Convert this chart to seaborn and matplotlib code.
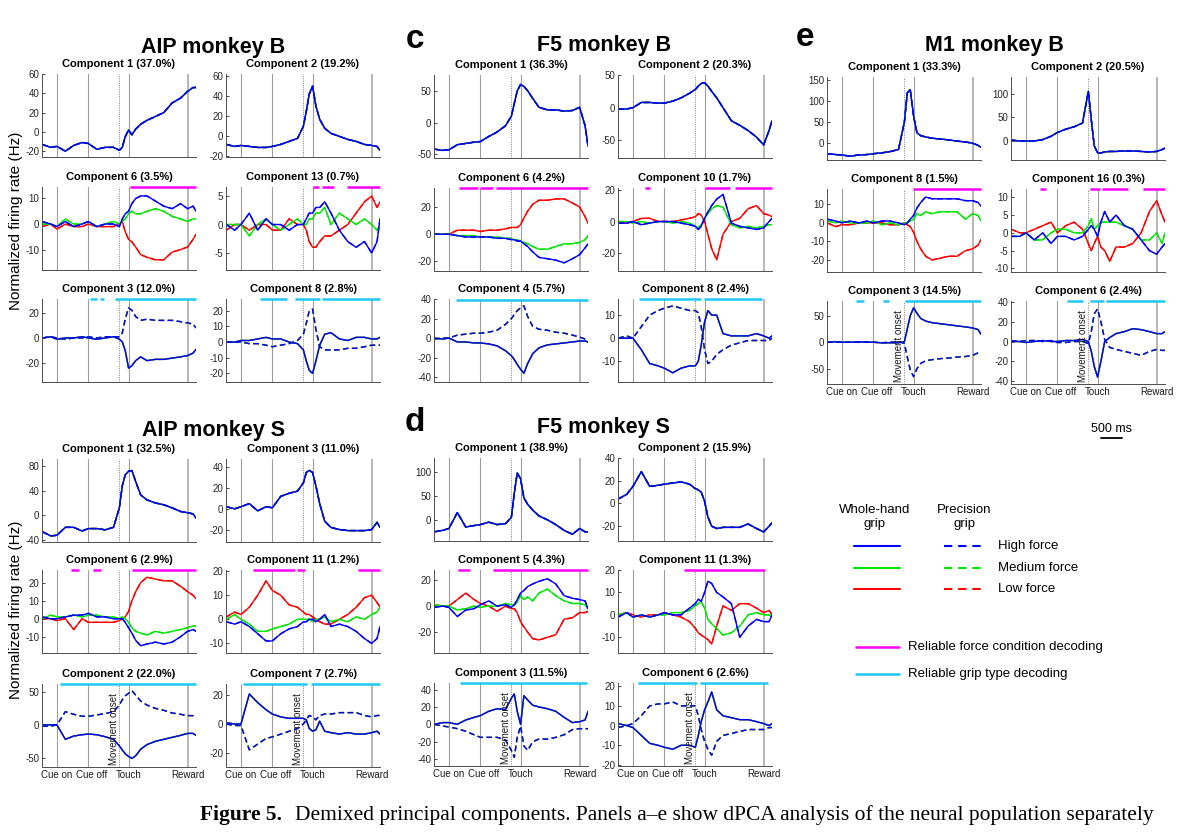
import matplotlib.pyplot as plt
import matplotlib.transforms as mtransforms
import pandas as pd
import seaborn as sns

sns.set_theme(style='white')
plt.rcParams['font.family'] = ['Liberation Sans', 'DejaVu Sans']
plt.rcParams['text.color'] = 'black'
plt.rcParams['axes.unicode_minus'] = False

W, H = 1184, 833

# time base (ms, cue onset = 0)
t_ms = [-350, -150, 0, 200, 400, 600, 750, 950, 1150, 1350, 1490, 1560, 1630,
        1710, 1790, 1880, 2000, 2150, 2350, 2550, 2750, 2950, 3120, 3250, 3320]
t_start, t_end = -357, 3320
event_names = ['Cue on', 'Cue off', 'Touch', 'Reward']
event_ms = [0, 750, 1710, 3120]
move_onset_ms = 1490

forces = ['Low', 'Medium', 'High']
grips = ['Whole-hand', 'Precision']
force_colors = {'High': '#0000ff', 'Medium': '#00e600', 'Low': '#ff0000'}
force_bar_color = '#ff00ff'
grip_bar_color = '#1ec8f5'

# ---------------- AIP monkey B ----------------
aipb_c1 = [-13, -16, -15, -20, -14, -11, -12, -18, -16, -16, -19, -16, -5, 2, -3, 3, 8, 12, 16, 20, 30, 35, 42, 46, 46]
aipb_c2 = [-8, -10, -9, -10, -11, -11, -10, -8, -5, -2, 10, 25, 42, 50, 30, 17, 8, 3, 0, -3, -5, -8, -9, -10, -14]
aipb_c6_high = [1, 0, -1, 1, -1, 0, 1, -1, 0, 0, -1, 2, 4, 5, 8, 10, 11, 11, 9, 7, 6, 8, 6, 7, 5]
aipb_c6_med = [0, 0, -1, 2, 0, 0, 1, -1, 0, 1, 0, 1, 2, 4, 5, 4, 4, 5, 6, 5, 3, 2, 1, 2, 2]
aipb_c6_low = [-1, 0, -2, 0, -1, -1, 0, -1, -1, -1, 0, 1, -3, -6, -7, -9, -12, -13, -14, -14, -11, -10, -9, -6, -4]
aipb_c13_high = [0, -1, 0, 2, -1, 1, 0, 0, -1, 0, 0, 1, 2, 2, 3, 3, 4, 2, -1, -3, -4, -3, -5, -3, 1]
aipb_c13_med = [0, 0, 0, -2, 0, 1, 0, -1, 0, 1, 0, 0, 1, 1, 2, 2, 3, 0, 2, 1, 0, 1, 0, -1, 0]
aipb_c13_low = [-1, 0, 0, -1, 0, 0, -1, -1, 1, 0, 0, -1, -3, -4, -4, -3, -2, -2, -1, 0, 2, 4, 5, 3, 4]
aipb_c3_whole = [0, 1, -1, 0, 0, 1, 0, -1, 0, 1, -1, -3, -10, -24, -22, -18, -15, -18, -17, -17, -16, -15, -14, -12, -9]
aipb_c3_prec = [0, 1, 0, -1, 0, 0, 1, 0, 1, 1, 1, 4, 15, 24, 22, 17, 14, 15, 14, 14, 14, 13, 12, 11, 8]
aipb_c8_whole = [0, 0, 1, 1, 2, 3, 2, 2, 0, -1, -5, -12, -18, -20, -12, -2, 5, 6, 2, 1, 3, 3, 2, 2, 3]
aipb_c8_prec = [0, 0, 0, -1, -1, -2, -3, -2, -1, 1, 5, 12, 20, 21, 8, -3, -5, -5, -5, -4, -4, -3, -2, -2, -2]

# ---------------- AIP monkey S ----------------
aips_c1 = [-27, -34, -33, -20, -20, -26, -22, -22, -24, -20, 12, 48, 66, 72, 73, 55, 33, 25, 20, 17, 12, 6, 4, 2, -5]
aips_c3 = [2, 0, 2, 5, -2, 2, 1, 12, 15, 17, 25, 35, 37, 35, 22, 5, -12, -18, -20, -21, -21, -21, -20, -13, -18]
aips_c6_high = [1, 0, 0, 1, 2, 2, 3, 1, 1, 0, 0, 0, -2, -5, -8, -12, -15, -14, -13, -14, -13, -10, -7, -6, -7]
aips_c6_med = [0, 2, 1, 1, 2, 1, 2, 2, 1, 1, 0, 1, 0, -2, -5, -7, -8, -9, -7, -8, -7, -6, -5, -4, -4]
aips_c6_low = [0, 0, -1, 0, -6, 0, -2, -2, -2, -2, -1, 0, 1, 4, 10, 15, 20, 23, 22, 21, 21, 18, 15, 13, 11]
aips_c11_high = [-1, -2, -1, -3, -6, -9, -9, -6, -4, -3, -1, -1, 0, 0, -1, 0, 2, -3, -2, -3, -5, -8, -10, -8, -3]
aips_c11_med = [0, 2, 0, -2, -5, -5, -4, -3, -2, 0, 0, 0, 0, -1, 0, 0, 1, -1, 0, -1, 1, 0, 2, 3, 5]
aips_c11_low = [1, 3, 2, 5, 10, 16, 12, 10, 6, 5, 3, 2, 2, 1, 0, -1, -2, -2, 0, 2, 5, 9, 10, 7, 5]
aips_c2_whole = [0, 0, 0, -22, -17, -15, -14, -15, -18, -22, -32, -38, -44, -48, -51, -47, -37, -30, -25, -22, -19, -16, -13, -13, -16]
aips_c2_prec = [-2, -2, 0, 20, 16, 13, 13, 15, 17, 20, 30, 38, 44, 48, 52, 45, 36, 30, 25, 22, 18, 16, 14, 14, 14]
aips_c7_whole = [1, 0, 0, 21, 15, 10, 7, 5, 4, 4, 4, 3, -3, -5, -4, 2, -5, -6, -7, -6, -7, -7, -6, -5, -7]
aips_c7_prec = [0, -1, -1, -18, -14, -10, -9, -7, -5, -3, 0, 3, 6, 5, 3, 6, 7, 7, 8, 8, 8, 6, 5, 6, 6]

# ---------------- F5 monkey B ----------------
f5b_c1 = [-42, -44, -43, -35, -33, -31, -30, -22, -15, -5, 10, 30, 50, 60, 57, 50, 38, 24, 20, 20, 18, 19, 24, -5, -37]
f5b_c2 = [-2, -2, 0, 8, 8, 7, 7, 10, 15, 22, 28, 33, 37, 38, 33, 25, 15, 0, -20, -27, -35, -45, -57, -35, -20]
f5b_c6_high = [0, 0, 0, -1, -2, -2, -2, -2, -3, -3, -4, -4, -5, -5, -7, -9, -13, -17, -18, -19, -21, -18, -15, -10, -7]
f5b_c6_med = [0, 0, 0, -1, -1, -1, -2, -2, -2, -3, -3, -4, -4, -5, -6, -7, -9, -11, -11, -9, -7, -7, -6, -4, -1]
f5b_c6_low = [0, 0, 0, 3, 3, 3, 2, 3, 3, 4, 5, 5, 5, 7, 12, 17, 22, 25, 25, 26, 26, 23, 20, 13, 8]
f5b_c10_high = [-1, -1, 0, -2, -1, 0, 0, 0, -1, -2, -3, -5, -3, 2, 6, 10, 14, 17, -1, -3, -4, -5, -4, 0, 2]
f5b_c10_med = [0, 0, -1, 0, -1, 0, 0, -1, 0, -1, -3, -4, -2, 2, 5, 8, 10, 9, -2, -4, -3, -4, -3, -2, -2]
f5b_c10_low = [0, -1, 0, 2, 2, 0, 0, 0, 1, 2, 3, 5, 4, 0, -8, -17, -24, -8, 0, 2, 8, 10, 5, 4, 3]
f5b_c4_whole = [0, -1, 0, -4, -4, -5, -5, -6, -8, -13, -18, -22, -27, -32, -36, -26, -16, -10, -7, -6, -5, -4, -3, -3, -4]
f5b_c4_prec = [-1, 0, 0, 3, 4, 5, 5, 6, 8, 14, 20, 24, 28, 31, 33, 22, 12, 9, 8, 6, 5, 3, 1, -1, 0]
f5b_c8_whole = [0, 0, 0, -5, -11, -12, -13, -15, -13, -12, -12, -10, -3, 7, 12, 10, 10, 2, 1, 1, 1, 2, 1, 0, 1]
f5b_c8_prec = [0, 1, 0, 5, 10, 12, 13, 14, 13, 12, 12, 11, 5, -5, -11, -10, -7, -5, -3, -2, -1, -1, -1, -1, 0]

# ---------------- M1 monkey B ----------------
m1b_c1 = [-25, -27, -28, -31, -28, -27, -25, -23, -20, -15, 50, 120, 128, 65, 25, 18, 15, 12, 10, 8, 5, 3, 0, -5, -10]
m1b_c2 = [2, 0, 0, 0, 3, 10, 18, 25, 30, 38, 105, 45, -10, -25, -25, -23, -22, -22, -21, -21, -22, -23, -22, -18, -15]
m1b_c8_high = [2, 1, 0, 1, 0, 1, 0, 1, 1, 0, -1, 0, 2, 4, 8, 11, 14, 13, 13, 13, 13, 12, 12, 11, 9]
m1b_c8_med = [1, 0, 1, 0, 0, 0, 1, -1, 0, -1, 0, 0, 1, 2, 5, 4, 6, 5, 6, 6, 6, 2, 5, 4, 1]
m1b_c8_low = [0, -2, -1, -1, 0, 0, 0, 0, -1, -1, 0, -1, -2, -5, -10, -14, -18, -20, -19, -18, -18, -15, -14, -12, -9]
m1b_c16_high = [-1, -1, 0, -2, 0, -3, -1, -1, -2, -1, 1, 2, 1, -1, 3, 6, 3, 5, 2, 1, -2, -5, -6, -4, -3]
m1b_c16_med = [-1, -1, 0, -2, -2, 0, 1, 1, 0, 0, 2, 4, 1, 2, 3, 3, 3, 3, 2, 1, -2, -2, 0, -3, 0]
m1b_c16_low = [1, 0, 0, 1, 2, 3, 0, 2, 3, 1, -3, -5, -3, -1, -4, -5, -8, -4, -4, -3, 0, 6, 9, 5, 3]
m1b_c3_whole = [0, 1, 0, 0, 1, 0, 0, -1, -1, -1, 1, 25, 50, 65, 55, 45, 40, 37, 35, 33, 31, 29, 27, 24, 15]
m1b_c3_prec = [0, 0, 0, 0, 0, 1, 0, -1, 0, 1, -2, -28, -52, -65, -50, -40, -35, -33, -31, -30, -28, -27, -25, -20, -17]
m1b_c6_whole = [0, 0, -1, 0, 1, 0, 0, 1, 1, 2, 0, -10, -25, -36, -20, 0, 4, 8, 10, 13, 12, 10, 8, 8, 10]
m1b_c6_prec = [1, 0, 1, 1, 0, 1, -1, -1, 0, 0, -2, 10, 28, 33, 20, 2, -6, -8, -10, -12, -14, -10, -8, -9, -9]

# ---------------- F5 monkey S ----------------
f5s_c1 = [-25, -22, -18, 15, -15, -12, -10, -5, -10, -8, 5, 55, 97, 85, 45, 32, 20, 8, 0, -10, -22, -30, -18, -25, -25]
f5s_c2 = [4, 8, 15, 28, 15, 16, 17, 18, 19, 17, 13, 12, 10, 2, -12, -20, -22, -21, -21, -21, -18, -22, -25, -20, -17]
f5s_c5_high = [-1, 0, -1, -8, -3, -2, 1, 4, 0, 1, -1, 1, 5, 10, 12, 15, 17, 19, 21, 17, 8, 6, 5, 4, -2]
f5s_c5_med = [1, 0, 0, -3, -2, 0, -1, 0, 0, 2, 1, 1, 3, 8, 5, 7, 4, 10, 13, 8, 4, 2, 2, 1, -2]
f5s_c5_low = [1, 0, 0, 5, 10, 5, 2, 0, -4, 0, -2, -2, -5, -12, -16, -20, -25, -26, -24, -22, -10, -9, -5, -5, -4]
f5s_c11_high = [-1, 1, -1, 0, -1, 0, 1, 0, 0, 3, 5, 7, 6, 10, 15, 14, 10, 8, 5, -10, -5, -2, -3, -3, 0]
f5s_c11_med = [0, 1, -1, 0, -1, 0, 0, 1, 1, 2, 4, 5, 6, 3, -2, -4, -6, -9, -8, -5, 0, 1, 0, 0, -1]
f5s_c11_low = [0, 1, 0, -1, 0, 0, 1, 0, -1, -3, -6, -8, -9, -10, -11, -13, -5, 4, 2, 5, 5, 3, 1, 2, 0]
f5s_c3_whole = [0, 2, 2, 0, 5, 8, 10, 15, 18, 17, 30, 35, 15, 0, 33, 28, 22, 20, 18, 15, 8, 2, 3, 5, 15]
f5s_c3_prec = [0, -2, -3, -5, -8, -12, -15, -15, -15, -18, -30, -38, -15, -2, -25, -30, -20, -17, -17, -15, -12, -6, -5, -5, -5]
f5s_c6_whole = [1, 0, -1, -5, -9, -10, -11, -12, -10, -10, -11, -5, 2, 8, 12, 17, 8, 5, 4, 3, 3, 2, 1, 0, 1]
f5s_c6_prec = [-1, 0, 1, 5, 10, 11, 11, 12, 10, 10, 10, 5, -2, -8, -12, -15, -8, -5, -4, -3, -2, -2, -2, -1, -1]


def comp(title, kind, data, ylim, yticks, bars=()):
    return dict(title=title, kind=kind, data=data, ylim=ylim, yticks=yticks, bars=bars)


def fdict(high, med, low):
    return {'High': high, 'Medium': med, 'Low': low}


def gdict(whole, prec):
    return {'Whole-hand': whole, 'Precision': prec}


panels = [
    dict(name='AIP monkey B', letter=None, cols=(42, 226), rows=(74, 187, 299), labels=False,
         title_xy=(213, 47),
         comps=[
             comp('Component 1 (37.0%)', 'shared', aipb_c1, (-26, 60), [-20, 0, 20, 40, 60]),
             comp('Component 2 (19.2%)', 'shared', aipb_c2, (-20.5, 62), [-20, 0, 20, 40, 60]),
             comp('Component 6 (3.5%)', 'force', fdict(aipb_c6_high, aipb_c6_med, aipb_c6_low),
                  (-18, 14.5), [-10, 0, 10], [(1754, 3320)]),
             comp('Component 13 (0.7%)', 'force', fdict(aipb_c13_high, aipb_c13_med, aipb_c13_low),
                  (-8, 6.6), [-5, 0, 5], [(1731, 1875), (1930, 2210), (2526, 3320)]),
             comp('Component 3 (12.0%)', 'grip', gdict(aipb_c3_whole, aipb_c3_prec),
                  (-35, 31), [-20, 0, 20], [(783, 956), (1018, 1129), (1378, 3320)]),
             comp('Component 8 (2.8%)', 'grip', gdict(aipb_c8_whole, aipb_c8_prec),
                  (-25.5, 27.5), [-20, -10, 0, 10, 20], [(459, 1095), (1294, 1890), (1930, 3320)]),
         ]),
    dict(name='F5 monkey B', letter=('c', 415, 40), cols=(434, 618), rows=(75, 188, 299), labels=False,
         title_xy=(604, 46),
         comps=[
             comp('Component 1 (36.3%)', 'shared', f5b_c1, (-56, 75), [-50, 0, 50]),
             comp('Component 2 (20.3%)', 'shared', f5b_c2, (-77, 50), [-50, 0, 50]),
             comp('Component 6 (4.2%)', 'force', fdict(f5b_c6_high, f5b_c6_med, f5b_c6_low),
                  (-27, 34), [-20, 0, 20], [(235, 687), (750, 1059), (1121, 3320)]),
             comp('Component 10 (1.7%)', 'force', fdict(f5b_c10_high, f5b_c10_med, f5b_c10_low),
                  (-31, 21), [-20, 0, 20], [(294, 415), (1710, 2327), (2438, 3320)]),
             comp('Component 4 (5.7%)', 'grip', gdict(f5b_c4_whole, f5b_c4_prec),
                  (-45, 39), [-40, -20, 0, 20, 40], [(172, 3320)]),
             comp('Component 8 (2.4%)', 'grip', gdict(f5b_c8_whole, f5b_c8_prec),
                  (-19, 17), [-10, 0, 10], [(136, 1614), (1691, 3081)]),
         ]),
    dict(name='M1 monkey B', letter=('e', 805, 38), cols=(827, 1011), rows=(77, 189, 301), labels=True,
         title_xy=(994, 46),
         comps=[
             comp('Component 1 (33.3%)', 'shared', m1b_c1, (-40, 158), [0, 50, 100, 150]),
             comp('Component 2 (20.5%)', 'shared', m1b_c2, (-40, 135), [0, 50, 100]),
             comp('Component 8 (1.5%)', 'force', fdict(m1b_c8_high, m1b_c8_med, m1b_c8_low),
                  (-26.5, 18.3), [-20, -10, 0, 10], [(1695, 3320)]),
             comp('Component 16 (0.3%)', 'force', fdict(m1b_c16_high, m1b_c16_med, m1b_c16_low),
                  (-11, 12.3), [-10, -5, 0, 5, 10], [(331, 474), (1518, 1761), (1812, 2426), (2805, 3320)]),
             comp('Component 3 (14.5%)', 'grip', gdict(m1b_c3_whole, m1b_c3_prec),
                  (-79, 78), [-50, 0, 50], [(334, 533), (970, 1132), (1496, 3320)]),
             comp('Component 6 (2.4%)', 'grip', gdict(m1b_c6_whole, m1b_c6_prec),
                  (-43, 41), [-40, -20, 0, 20, 40], [(989, 1353), (1540, 1857), (1919, 3320)]),
         ]),
    dict(name='AIP monkey S', letter=None, cols=(42, 226), rows=(459, 570, 684), labels=True,
         title_xy=(213, 430),
         comps=[
             comp('Component 1 (32.5%)', 'shared', aips_c1, (-44, 92), [-40, 0, 40, 80]),
             comp('Component 3 (11.0%)', 'shared', aips_c3, (-32, 48), [-20, 0, 20, 40]),
             comp('Component 6 (2.9%)', 'force', fdict(aips_c6_high, aips_c6_med, aips_c6_low),
                  (-19, 27), [-10, 0, 10, 20], [(338, 515), (867, 1044), (1801, 3320)]),
             comp('Component 11 (1.2%)', 'force', fdict(aips_c11_high, aips_c11_med, aips_c11_low),
                  (-14, 20.5), [-10, 0, 10, 20], [(286, 1294), (1349, 1533), (2787, 3320)]),
             comp('Component 2 (22.0%)', 'grip', gdict(aips_c2_whole, aips_c2_prec),
                  (-64, 62), [-50, 0, 50], [(77, 3320)]),
             comp('Component 7 (2.7%)', 'grip', gdict(aips_c7_whole, aips_c7_prec),
                  (-30, 28), [-20, 0, 20], [(40, 1588), (1676, 3320)]),
         ]),
    dict(name='F5 monkey S', letter=('d', 415, 422), cols=(434, 618), rows=(458, 570, 683), labels=True,
         title_xy=(603, 428),
         comps=[
             comp('Component 1 (38.9%)', 'shared', f5s_c1, (-44, 128), [0, 50, 100]),
             comp('Component 2 (15.9%)', 'shared', f5s_c2, (-33, 40), [-20, 0, 20, 40]),
             comp('Component 5 (4.3%)', 'force', fdict(f5s_c5_high, f5s_c5_med, f5s_c5_low),
                  (-36, 27.7), [-20, 0, 20], [(217, 492), (1059, 3320)]),
             comp('Component 11 (1.3%)', 'force', fdict(f5s_c11_high, f5s_c11_med, f5s_c11_low),
                  (-17, 20), [-10, 0, 10, 20], [(1228, 3162)]),
             comp('Component 3 (11.5%)', 'grip', gdict(f5s_c3_whole, f5s_c3_prec),
                  (-48, 47.6), [-40, -20, 0, 20, 40], [(257, 3305)]),
             comp('Component 6 (2.6%)', 'grip', gdict(f5s_c6_whole, f5s_c6_prec),
                  (-20.5, 21.6), [-20, -10, 0, 10, 20], [(117, 1537), (1599, 3224)]),
         ]),
]


def curve_table(kind, data):
    parts = []
    for force in forces:
        for grip in grips:
            if kind == 'shared':
                y = data
            elif kind == 'force':
                y = data[force]
            else:
                y = data[grip]
            parts.append(pd.DataFrame({'t': t_ms, 'rate': y, 'force': force, 'grip': grip}))
    return pd.concat(parts, ignore_index=True)


def draw_component(ax, c, bottom_labels):
    for t in event_ms[:-1]:
        ax.axvline(t, color='0.62', lw=0.8, zorder=0)
    ax.axvline(event_ms[-1], color='0.72', lw=1.4, zorder=0)
    ax.axvline(move_onset_ms, color='0.5', lw=0.7, ls=(0, (1, 1.3)), zorder=0)
    sns.lineplot(data=curve_table(c['kind'], c['data']), x='t', y='rate',
                 hue='force', style='grip', hue_order=forces, style_order=grips,
                 palette=force_colors, dashes={'Whole-hand': '', 'Precision': (4, 2.5)},
                 estimator=None, legend=False, lw=1.0, ax=ax)
    ax.set_xlim(t_start, t_end)
    ax.set_ylim(*c['ylim'])
    ax.set_yticks(c['yticks'])
    ax.set_xlabel('')
    ax.set_ylabel('')
    bar_color = force_bar_color if c['kind'] == 'force' else grip_bar_color
    for x0, x1 in c['bars']:
        ax.hlines(c['ylim'][1], x0, x1, color=bar_color, lw=1.8, clip_on=False, zorder=5)
    for s in ['top', 'right']:
        ax.spines[s].set_visible(False)
    for s in ['left', 'bottom']:
        ax.spines[s].set_color('0.3')
        ax.spines[s].set_linewidth(0.7)
    ax.tick_params(axis='y', direction='in', length=2.5, width=0.6, labelsize=7,
                   colors='0.15', pad=2, left=True)
    if bottom_labels:
        ax.set_xticks(event_ms, event_names)
        ax.tick_params(axis='x', length=0, labelsize=7, colors='0.1', pad=2)
        # nudge "Cue off" a little to the right, as in the original layout
        lab = ax.get_xticklabels()[1]
        lab.set_transform(lab.get_transform() +
                          mtransforms.ScaledTranslation(3 / 100, 0, ax.figure.dpi_scale_trans))
        trans = mtransforms.blended_transform_factory(ax.transData, ax.transAxes)
        ax.text(move_onset_ms - 20, 0.02, 'Movement onset', rotation=90, ha='right', va='bottom',
                fontsize=7, color='0.1', transform=trans)
    else:
        ax.set_xticks([])
    ax.set_title(c['title'], fontsize=8, fontweight='bold', pad=5, color='black')


fig = plt.figure(figsize=(W / 100, H / 100), dpi=100, facecolor='white')

axes_by_panel = {}
for p in panels:
    axs = []
    for i, c in enumerate(p['comps']):
        r, k = divmod(i, 2)
        left, top = p['cols'][k], p['rows'][r]
        ax = fig.add_axes([left / W, 1 - (top + 83) / H, 154 / W, 83 / H])
        draw_component(ax, c, p['labels'] and r == 2)
        axs.append(ax)
    axes_by_panel[p['name']] = axs
    tx, ty = p['title_xy']
    fig.text(tx / W, 1 - ty / H, p['name'], ha='center', va='center',
             fontsize=15.5, fontweight='bold')
    if p['letter']:
        ch, lx, ly = p['letter']
        fig.text(lx / W, 1 - ly / H, ch, ha='center', va='center', fontsize=24, fontweight='bold')

# y labels
for yc in (221, 610):
    fig.text(16.5 / W, 1 - yc / H, 'Normalized firing rate (Hz)', rotation=90,
             ha='center', va='center', fontsize=11)

# scale bar under M1 panel
sax = axes_by_panel['M1 monkey B'][5]
strans = mtransforms.blended_transform_factory(sax.transData, sax.transAxes)
sax.plot([1800, 2300], [-0.65, -0.65], color='black', lw=1.3, transform=strans, clip_on=False)
sax.text(2050, -0.54, '500 ms', ha='center', va='center', fontsize=9, transform=strans)

# legend
lax = fig.add_axes([0, 0, 1, 1], facecolor='none')
lax.set_xlim(0, W)
lax.set_ylim(H, 0)
lax.axis('off')
lax.text(875, 517, 'Whole-hand\ngrip', ha='center', va='center', fontsize=9.5, linespacing=1.15)
lax.text(964, 517, 'Precision\ngrip', ha='center', va='center', fontsize=9.5, linespacing=1.15)
for force, ly, label in [('High', 546, 'High force'), ('Medium', 568, 'Medium force'),
                         ('Low', 589, 'Low force')]:
    lax.plot([854, 900], [ly, ly], color=force_colors[force], lw=1.5)
    lax.plot([944, 984], [ly, ly], color=force_colors[force], lw=1.5, dashes=(4, 2.8))
    lax.text(998, ly, label, ha='left', va='center', fontsize=9.5)
lax.plot([856, 899], [647, 647], color=force_bar_color, lw=1.8)
lax.text(908, 647, 'Reliable force condition decoding', ha='left', va='center', fontsize=9.5)
lax.plot([856, 899], [674, 674], color=grip_bar_color, lw=1.8)
lax.text(908, 674, 'Reliable grip type decoding', ha='left', va='center', fontsize=9.5)

# caption
cap_size = 13.4
cap_b = fig.text(200 / W, 1 - 820 / H, 'Figure 5.', fontsize=cap_size, fontweight='bold',
                 family='Liberation Serif', va='baseline')
cap_r = fig.text(0, 1 - 820 / H,
                 'Demixed principal components. Panels a\u2013e show dPCA analysis of the neural population separately',
                 fontsize=cap_size, family='Liberation Serif', va='baseline')
renderer = fig.canvas.get_renderer()
for _ in range(3):
    bb = cap_b.get_window_extent(renderer)
    cap_r.set_x((bb.x1 + 13) / W)
    total = cap_r.get_window_extent(renderer).x1 - bb.x0
    cap_size *= 955 / total
    cap_b.set_fontsize(cap_size)
    cap_r.set_fontsize(cap_size)
bb = cap_b.get_window_extent(renderer)
cap_r.set_x((bb.x1 + 13) / W)

fig.savefig('out.png', dpi=100, facecolor='white')
